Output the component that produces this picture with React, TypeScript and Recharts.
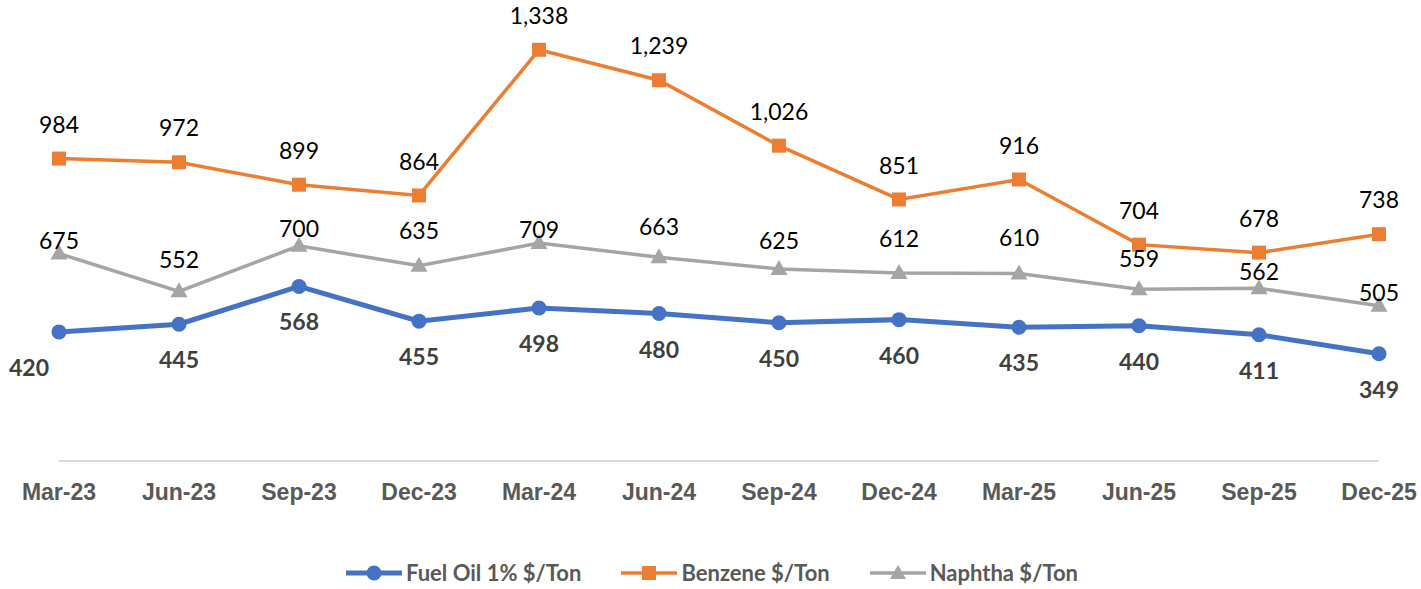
import { LineChart, Line, XAxis, YAxis, Legend, LabelList } from 'recharts';

const quarters = [
  'Mar-23', 'Jun-23', 'Sep-23', 'Dec-23', 'Mar-24', 'Jun-24',
  'Sep-24', 'Dec-24', 'Mar-25', 'Jun-25', 'Sep-25', 'Dec-25',
];
const fuelOil = [420, 445, 568, 455, 498, 480, 450, 460, 435, 440, 411, 349];
const benzene = [984, 972, 899, 864, 1338, 1239, 1026, 851, 916, 704, 678, 738];
const naphtha = [675, 552, 700, 635, 709, 663, 625, 612, 610, 559, 562, 505];

// naphtha labels were nudged by hand in the original, so keep their offsets here
const naphthaLabelDy = [-13, -31, -17, -35, -13, -30, -28, -34, -36, -30, -16, -13];

const BLUE = '#4472C4';
const ORANGE = '#ED7D31';
const GRAY = '#A5A5A5';
const LABEL_FONT = 'Lato, "Open Sans", sans-serif';

const rows = quarters.map((q, i) => ({
  q,
  fuel: fuelOil[i],
  benzene: benzene[i],
  naphtha: naphtha[i],
}));

const fmt = (v: number) => v.toLocaleString('en-US');

const SquareDot = (props: any) => {
  const { cx, cy } = props;
  if (cx == null || cy == null) return null;
  return <rect x={cx - 7} y={cy - 7} width={14} height={14} fill={ORANGE} />;
};

const TriangleDot = (props: any) => {
  const { cx, cy } = props;
  if (cx == null || cy == null) return null;
  return (
    <polygon
      points={`${cx},${cy - 9} ${cx + 8.5},${cy + 6} ${cx - 8.5},${cy + 6}`}
      fill={GRAY}
    />
  );
};

const XTick = (props: any) => {
  const { x, y, payload } = props;
  return (
    <text
      x={x}
      y={y + 23}
      dy="0.35em"
      textAnchor="middle"
      fill="#595959"
      fontFamily='"Liberation Sans", Arial, sans-serif'
      fontWeight="bold"
      fontSize={23}
    >
      {payload.value}
    </text>
  );
};

const makeLabel = (
  dyFor: (i: number) => number,
  dxFor: (i: number) => number,
  bold: boolean,
  color: string
) => (props: any) => {
  const { x, y, value, index } = props;
  return (
    <text
      x={x + dxFor(index)}
      y={y + dyFor(index)}
      dy="0.35em"
      textAnchor="middle"
      fill={color}
      fontFamily={LABEL_FONT}
      fontWeight={bold ? 'bold' : 'normal'}
      fontSize={23}
    >
      {fmt(value)}
    </text>
  );
};

const legendItems = [
  { name: 'Fuel Oil 1% $/Ton', color: BLUE, marker: 'circle' },
  { name: 'Benzene $/Ton', color: ORANGE, marker: 'square' },
  { name: 'Naphtha $/Ton', color: GRAY, marker: 'triangle' },
];

const LegendIcon = ({ color, marker }: { color: string; marker: string }) => (
  <svg width={56} height={20} style={{ display: 'block' }}>
    <line x1={0} y1={10} x2={56} y2={10} stroke={color} strokeWidth={marker === 'circle' ? 5 : 3.5} />
    {marker === 'circle' && <circle cx={28} cy={10} r={7.5} fill={color} />}
    {marker === 'square' && <rect x={21} y={3} width={14} height={14} fill={color} />}
    {marker === 'triangle' && <polygon points="28,2 36,16 20,16" fill={color} />}
  </svg>
);

const ChartLegend = () => (
  <div
    style={{
      height: 68,
      display: 'flex',
      justifyContent: 'center',
      alignItems: 'flex-start',
      paddingTop: 39,
      boxSizing: 'border-box',
      gap: 40,
      paddingRight: 14,
    }}
  >
    {legendItems.map((it) => (
      <div key={it.name} style={{ display: 'flex', alignItems: 'center', gap: 4 }}>
        <LegendIcon color={it.color} marker={it.marker} />
        <span
          style={{
            fontFamily: LABEL_FONT,
            fontWeight: 'bold',
            fontSize: 22,
            color: '#595959',
            lineHeight: '26px',
          }}
        >
          {it.name}
        </span>
      </div>
    ))}
  </div>
);

export default function App() {
  return (
    <div style={{ position: 'absolute', left: 0, top: 0, background: '#fff' }}>
      <LineChart
        width={1421}
        height={589}
        data={rows}
        margin={{ top: 0, right: 42, left: 59, bottom: 0 }}
      >
        <XAxis
          dataKey="q"
          interval={0}
          tickLine={false}
          axisLine={{ stroke: '#D9D9D9', strokeWidth: 2 }}
          tick={<XTick />}
          height={60}
        />
        <YAxis hide domain={[0, 1500]} />
        <Legend verticalAlign="bottom" height={68} content={<ChartLegend />} />
        <Line
          dataKey="fuel"
          name="Fuel Oil 1% $/Ton"
          stroke={BLUE}
          strokeWidth={5}
          dot={{ r: 7.5, fill: BLUE, stroke: 'none' }}
          isAnimationActive={false}
        >
          <LabelList
            dataKey="fuel"
            content={makeLabel(() => 36, (i) => (i === 0 ? -30 : 0), true, '#404040')}
          />
        </Line>
        <Line
          dataKey="benzene"
          name="Benzene $/Ton"
          stroke={ORANGE}
          strokeWidth={3.5}
          dot={<SquareDot />}
          isAnimationActive={false}
        >
          <LabelList dataKey="benzene" content={makeLabel(() => -34, () => 0, false, '#000000')} />
        </Line>
        <Line
          dataKey="naphtha"
          name="Naphtha $/Ton"
          stroke={GRAY}
          strokeWidth={3.5}
          dot={<TriangleDot />}
          isAnimationActive={false}
        >
          <LabelList
            dataKey="naphtha"
            content={makeLabel((i) => naphthaLabelDy[i], () => 0, false, '#000000')}
          />
        </Line>
      </LineChart>
    </div>
  );
}
